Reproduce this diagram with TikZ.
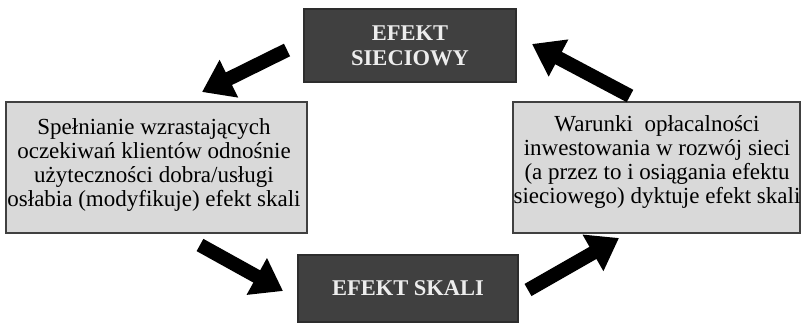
\documentclass[tikz,border=0pt]{standalone}
\usepackage{fontspec}
\setmainfont{Liberation Serif}
\usetikzlibrary{arrows.meta}
\definecolor{darkbox}{HTML}{404040}
\definecolor{lightbox}{HTML}{D9D9D9}
\definecolor{boxtext}{HTML}{EDEDED}
\begin{document}
\begin{tikzpicture}[x=1pt,y=1pt,
  darkrect/.style={draw=darkbox!70!black,line width=1.2pt,fill=darkbox,text=boxtext,
    font=\fontsize{22.5}{25}\selectfont\bfseries,align=center,inner sep=0pt},
  greyrect/.style={draw=darkbox,line width=1.6pt,fill=lightbox,inner sep=0pt},
  greytext/.style={text=black,font=\fontsize{23}{24}\selectfont,align=center,inner sep=0pt},
  bigarrow/.style={line width=14pt,draw=black,-{Triangle[length=30pt,width=40pt]}}]
\useasboundingbox (0,0) rectangle (801,324);
% boxes
\node[darkrect,minimum width=212pt,minimum height=73pt] (net) at (410,278.5) {EFEKT\\SIECIOWY};
\node[darkrect,minimum width=220pt,minimum height=67pt] (scale) at (408,35.5) {EFEKT SKALI};
\node[greyrect,minimum width=301pt,minimum height=131pt] (left) at (156.5,156.5) {};
\node[greytext] (lefttext) at (154,159)
  {Spełnianie wzrastających\\oczekiwań klientów odnośnie\\użyteczności dobra/usługi\\osłabia (modyfikuje) efekt skali};
\node[greyrect,minimum width=287pt,minimum height=131pt] (right) at (656.5,156.5) {};
\node[greytext] (righttext) at (657,162.5)
  {Warunki~ opłacalności\\inwestowania w rozwój sieci\\(a przez to i osiągania efektu\\sieciowego) dyktuje efekt skali};
% arrow end points
\coordinate (a1s) at (287,274);
\coordinate (a1e) at (202,232);
\coordinate (a2s) at (630,228);
\coordinate (a2e) at (532,280);
\coordinate (a3s) at (200,79);
\coordinate (a3e) at (283,33);
\coordinate (a4s) at (528,34);
\coordinate (a4e) at (619,86);
\draw[bigarrow] (a1s) -- (a1e);
\draw[bigarrow] (a2s) -- (a2e);
\draw[bigarrow] (a3s) -- (a3e);
\draw[bigarrow] (a4s) -- (a4e);
\end{tikzpicture}
\end{document}
